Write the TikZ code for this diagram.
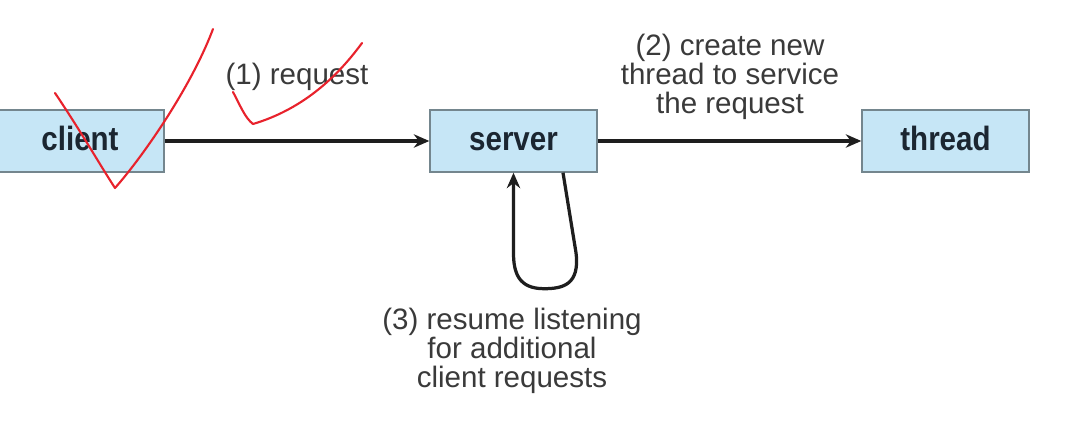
\documentclass[tikz,border=0pt]{standalone}
\usepackage{fontspec}
\setmainfont{Liberation Sans}
\usetikzlibrary{arrows.meta,calc}
\definecolor{boxfill}{HTML}{C6E6F6}
\definecolor{boxline}{HTML}{74868E}
\definecolor{ink}{HTML}{1E1E1E}
\definecolor{boxtext}{HTML}{1B2631}
\definecolor{labelink}{HTML}{3A3A3A}
\definecolor{pen}{HTML}{E8222C}
\newcommand{\tallword}[1]{\scalebox{1}[1.14]{#1}}
\tikzset{
  procbox/.style={draw=boxline, line width=1pt, fill=boxfill, minimum height=62*0.025cm, inner sep=0pt,
    text height=20*0.025cm, text depth=0pt,
    font=\fontsize{21}{21}\selectfont\bfseries, text=boxtext},
  conn/.style={draw=ink, line width=2.6pt, -{Stealth[length=11pt,width=9.5pt]}},
  lbl/.style={font=\fontsize{21}{20.6}\selectfont, text=labelink, align=center, inner sep=0pt},
  penstroke/.style={draw=pen, line width=1.5pt, line cap=round, line join=round}
}
\begin{document}
\begin{tikzpicture}[x=0.025cm, y=-0.025cm]
\useasboundingbox (0,0) rectangle (1080,432);
\fill[white] (0,0) rectangle (1080,432);
\node[procbox, minimum width=168*0.025cm] (client) at (80,141) {\tallword{client}};
\node[procbox, minimum width=167*0.025cm] (server) at (513.5,141) {\tallword{server}};
\node[procbox, minimum width=167*0.025cm] (thread) at (945.5,141) {\tallword{thread}};
\draw[conn] (client.east) -- (server.west);
\draw[conn] (server.east) -- (thread.west);
\coordinate (loopout) at ($(server.south)+(49.5,0)$);
\coordinate (loopin) at ($(server.south)+(0,0)$);
\draw[conn, line width=2.3pt] (loopout) -- ($(loopout)+(13,80)$) .. controls ($(loopout)+(17,112)$) and ($(loopout)+(0,116)$) .. ($(loopout)+(-19,116)$) .. controls ($(loopin)+(5,116)$) and ($(loopin)+(0,100)$) .. ($(loopin)+(0,80)$) -- (loopin);
\node[lbl] (l1) at (297,77) {(1) request};
\node[lbl] (l2) at (730,77) {(2) create new\\thread to service\\the request};
\node[lbl] (l3) at (512,351) {(3) resume listening\\for additional\\client requests};
\draw[penstroke] (55,93) .. controls (80,130) and (100,165) .. (115,188) .. controls (140,160) and (190,90) .. (213,29);
\draw[penstroke] (233,92) .. controls (240,105) and (245,118) .. (253,124) .. controls (300,110) and (335,80) .. (362,43);
\end{tikzpicture}
\end{document}
